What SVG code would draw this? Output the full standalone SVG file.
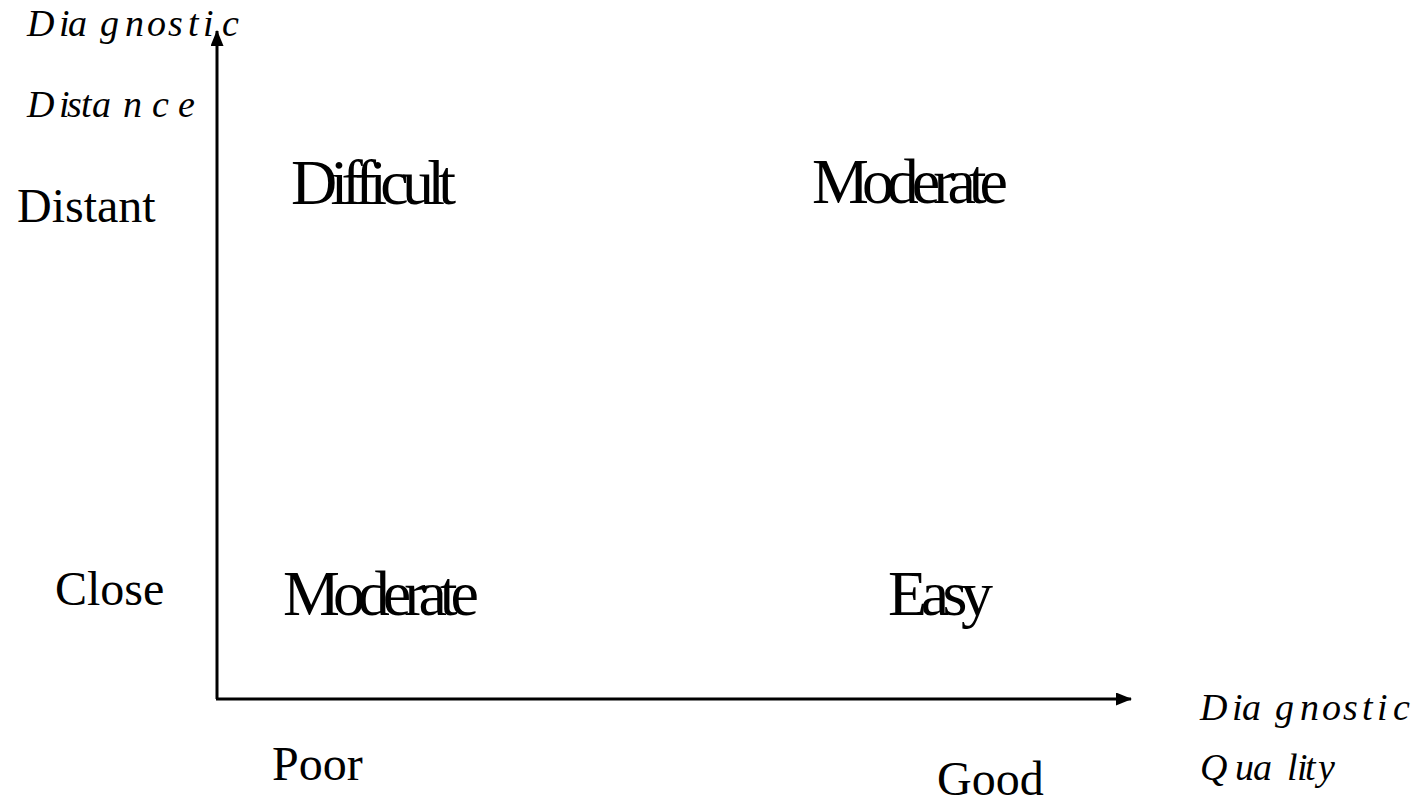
<svg xmlns="http://www.w3.org/2000/svg" width="1423" height="811" viewBox="0 0 1423 811">
<style>
.ax{stroke:#000;stroke-width:3;fill:none}
.q{font-family:"Liberation Serif","Times New Roman",serif;font-size:64px;fill:#000}
.l{font-family:"Liberation Serif","Times New Roman",serif;font-size:48px;fill:#000}
.it{font-family:"Liberation Serif","Times New Roman",serif;font-style:italic;font-size:38px;fill:#000}
</style>
<defs>
<marker id="ah" markerWidth="16" markerHeight="13" refX="15" refY="6.5" orient="auto" markerUnits="userSpaceOnUse">
<path d="M0,0 L16,6.5 L0,13 Z" fill="#000"/>
</marker>
</defs>
<rect width="1423" height="811" fill="#fff"/>
<g id="connectors">
<path class="ax" d="M217,699 L217,31" marker-end="url(#ah)"/>
<path class="ax" d="M216,699 L1131,699" marker-end="url(#ah)"/>
</g>
<g id="y-axis-title">
<text class="it" x="27 59 68 100 125 147 168 188 203 222" y="36">Diagnostic</text>
<text class="it" x="27 59 67 81 92 123 152 178" y="117">Distance</text>
</g>
<g id="x-axis-title">
<text class="it" x="1200 1232 1242 1275 1300 1322 1343 1362 1377 1393" y="720">Diagnostic</text>
<text class="it" x="1200 1235 1253 1287 1297 1305 1318" y="780">Quality</text>
</g>
<g id="label-distant"><text class="l" x="17" y="222">Distant</text></g>
<g id="label-close"><text class="l" x="55" y="605">Close</text></g>
<g id="label-poor"><text class="l" x="272" y="780">Poor</text></g>
<g id="label-good"><text class="l" x="937" y="795">Good</text></g>
<g id="q-difficult"><text class="q" x="291" y="204" textLength="165" lengthAdjust="spacing">Difficult</text></g>
<g id="q-moderate-top"><text class="q" x="812" y="203" textLength="196" lengthAdjust="spacing">Moderate</text></g>
<g id="q-moderate-bottom"><text class="q" x="283" y="615" textLength="196" lengthAdjust="spacing">Moderate</text></g>
<g id="q-easy"><text class="q" x="888" y="615" textLength="105" lengthAdjust="spacing">Easy</text></g>
</svg>
